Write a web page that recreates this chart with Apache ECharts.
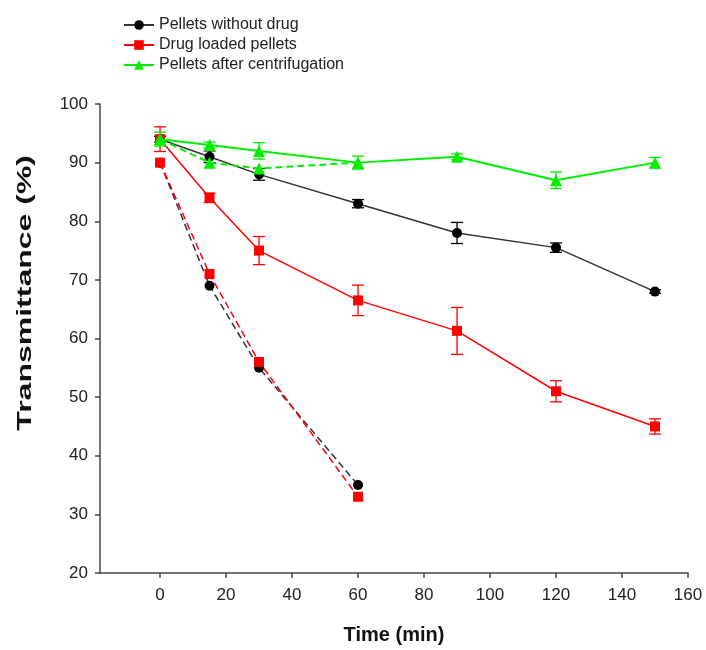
<!DOCTYPE html>
<html>
<head>
<meta charset="utf-8">
<script src="https://cdn.jsdelivr.net/npm/echarts@6/dist/echarts.min.js"></script>
<style>
html,body{margin:0;padding:0;background:#fff;}
#chart{width:706px;height:650px;}
</style>
</head>
<body>
<div id="chart"></div>
<script>
const times = [0, 15, 30, 60, 90, 120, 150];
const withoutDrug = [94, 91, 88, 83, 78, 75.5, 68];
const withoutDrugErr = [0.5, 1, 1, 0.7, 1.8, 0.8, 0.3];
const drugLoaded = [94, 84, 75, 66.5, 61.3, 51, 45];
const drugLoadedErr = [2.1, 0.8, 2.4, 2.6, 4, 1.8, 1.3];
const centrifuged = [94, 93, 92, 90, 91, 87, 90];
const centrifugedErr = [1.2, 0.5, 1.4, 1.1, 0.5, 1.4, 0.9];

const dashTimes = [0, 15, 30, 60];
const withoutDrugDashed = [90, 69, 55, 35];
const drugLoadedDashed = [90, 71, 56, 33];
const centrifugedDashed = [94, 90, 89, 90];

const xTicks = [0, 20, 40, 60, 80, 100, 120, 140, 160];
const legendNames = ['Pellets without drug', 'Drug loaded pellets', 'Pellets after centrifugation'];
const yTitle = 'Transmittance (%)';
const xTitle = 'Time (min)';

const BLACK = '#000000', RED = '#ff0000', GREEN = '#00ee00';
const FONT = 'Liberation Sans, Arial, sans-serif';

function pairs(xs, ys) { return xs.map((x, i) => [x, ys[i]]); }
function errData(xs, ys, es) { return xs.map((x, i) => [x, ys[i] - es[i], ys[i] + es[i]]); }

function errSeries(xs, ys, es, color, z) {
  return {
    type: 'custom',
    z: z,
    silent: true,
    data: errData(xs, ys, es),
    encode: { x: 0, y: [1, 2] },
    renderItem: function (params, api) {
      const x = api.value(0);
      const lo = api.coord([x, api.value(1)]);
      const hi = api.coord([x, api.value(2)]);
      const hw = 6;
      const st = { stroke: color, lineWidth: 1.3 };
      return {
        type: 'group',
        children: [
          { type: 'line', shape: { x1: lo[0], y1: lo[1], x2: hi[0], y2: hi[1] }, style: st },
          { type: 'line', shape: { x1: lo[0] - hw, y1: lo[1], x2: lo[0] + hw, y2: lo[1] }, style: st },
          { type: 'line', shape: { x1: hi[0] - hw, y1: hi[1], x2: hi[0] + hw, y2: hi[1] }, style: st }
        ]
      };
    }
  };
}

const chart = echarts.init(document.getElementById('chart'), null, { renderer: 'canvas' });

const option = {
  animation: false,
  backgroundColor: '#fff',
  textStyle: { fontFamily: FONT },
  grid: { left: 100, right: 18, top: 104, bottom: 76, containLabel: false },
  legend: {
    data: legendNames,
    orient: 'vertical',
    left: 118,
    top: 12,
    itemWidth: 30,
    itemHeight: 12,
    itemGap: 4,
    textStyle: { fontFamily: FONT, fontSize: 16, color: '#222' }
  },
  graphic: [{
    type: 'text',
    left: 15,
    top: 155,
    rotation: Math.PI / 2,
    scaleX: 1.6,
    style: { text: yTitle, font: 'bold 20px ' + FONT, fill: '#111' }
  }],
  xAxis: {
    type: 'value',
    min: -18.2,
    max: 160,
    name: xTitle,
    nameLocation: 'middle',
    nameGap: 52,
    nameTextStyle: { fontFamily: FONT, fontSize: 20, fontWeight: 'bold', color: '#111' },
    axisLine: { show: true, onZero: false, lineStyle: { color: '#444', width: 1.5 } },
    axisTick: { show: true, length: 5, customValues: xTicks, lineStyle: { color: '#444', width: 1.5 } },
    axisLabel: { customValues: xTicks, fontFamily: FONT, fontSize: 17, color: '#222', margin: 14 },
    splitLine: { show: false }
  },
  yAxis: {
    type: 'value',
    min: 20,
    max: 100,
    interval: 10,
    axisLine: { show: true, onZero: false, lineStyle: { color: '#444', width: 1.5 } },
    axisTick: { show: true, length: 5, lineStyle: { color: '#444', width: 1.5 } },
    axisLabel: { fontFamily: FONT, fontSize: 17, color: '#222', margin: 12 },
    splitLine: { show: false }
  },
  series: [
    errSeries(times, withoutDrug, withoutDrugErr, BLACK, 2),
    errSeries(times, drugLoaded, drugLoadedErr, RED, 3),
    errSeries(times, centrifuged, centrifugedErr, GREEN, 4),
    {
      name: 'Pellets without drug (dashed)', type: 'line', z: 2,
      data: pairs(dashTimes, withoutDrugDashed),
      symbol: 'circle', symbolSize: 10,
      itemStyle: { color: BLACK },
      lineStyle: { color: '#333', width: 1.5, type: [7, 4] }
    },
    {
      name: 'Drug loaded pellets (dashed)', type: 'line', z: 3,
      data: pairs(dashTimes, drugLoadedDashed),
      symbol: 'rect', symbolSize: 10,
      itemStyle: { color: RED },
      lineStyle: { color: RED, width: 1.5, type: [7, 4] }
    },
    {
      name: 'Pellets after centrifugation (dashed)', type: 'line', z: 4,
      data: pairs(dashTimes, centrifugedDashed),
      symbol: 'triangle', symbolSize: 12,
      itemStyle: { color: GREEN },
      lineStyle: { color: GREEN, width: 2, type: [7, 4] }
    },
    {
      name: legendNames[0], type: 'line', z: 2,
      data: pairs(times, withoutDrug),
      symbol: 'circle', symbolSize: 10,
      itemStyle: { color: BLACK },
      lineStyle: { color: '#333', width: 1.5 }
    },
    {
      name: legendNames[1], type: 'line', z: 3,
      data: pairs(times, drugLoaded),
      symbol: 'rect', symbolSize: 10,
      itemStyle: { color: RED },
      lineStyle: { color: RED, width: 1.5 }
    },
    {
      name: legendNames[2], type: 'line', z: 4,
      data: pairs(times, centrifuged),
      symbol: 'triangle', symbolSize: 12,
      itemStyle: { color: GREEN },
      lineStyle: { color: GREEN, width: 2 }
    }
  ]
};
chart.setOption(option);
</script>
</body>
</html>
